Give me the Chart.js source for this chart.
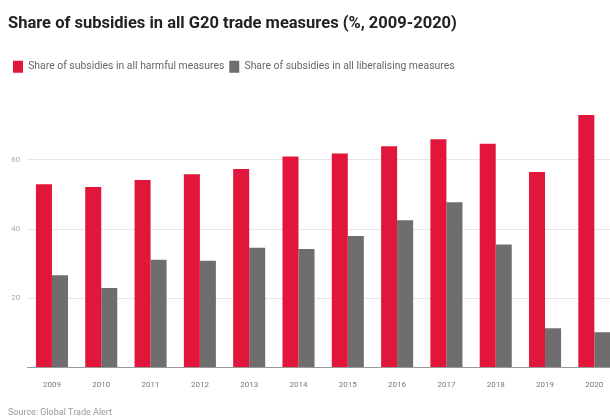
<!DOCTYPE html>
<html>
<head>
<meta charset="utf-8">
<script src="https://cdn.jsdelivr.net/npm/chart.js@4/dist/chart.umd.min.js"></script>
<style>
  html, body { margin: 0; padding: 0; background: #fff; overflow: hidden; }
  #wrap { position: relative; width: 619px; height: 418px; }
</style>
</head>
<body>
<div id="wrap"><canvas id="chart"></canvas></div>
<script>
// Datos
const years = ['2009', '2010', '2011', '2012', '2013', '2014', '2015', '2016', '2017', '2018', '2019', '2020'];
const harmful = [53.0, 52.2, 54.2, 55.9, 57.4, 61.0, 61.9, 64.0, 66.0, 64.7, 56.5, 73.0];
const liberalising = [26.7, 23.0, 31.2, 30.9, 34.6, 34.3, 38.0, 42.6, 47.8, 35.6, 11.4, 10.2];
const yTicks = [0, 20, 40, 60];

new Chart(document.getElementById('chart'), {
    type: 'bar',
    data: {
        labels: years,
        datasets: [{
            label: 'Share of subsidies in all harmful measures',
            data: harmful,
            backgroundColor: '#e2163b',
            categoryPercentage: 0.65,
            barPercentage: 1.0
        }, {
            label: 'Share of subsidies in all liberalising measures',
            data: liberalising,
            backgroundColor: '#6e6e6e',
            categoryPercentage: 0.65,
            barPercentage: 1.0
        }]
    },
    options: {
        responsive: true,
        maintainAspectRatio: false,
        animation: false,
        layout: { padding: { left: 8, right: 0, top: 14, bottom: 0 } },
        plugins: {
            title: {
                display: true,
                text: 'Share of subsidies in all G20 trade measures (%, 2009-2020)',
                align: 'start',
                color: '#222',
                font: { family: 'Roboto, sans-serif', size: 16.5, weight: 'bold' },
                padding: { top: 0, bottom: 22 }
            },
            legend: {
                align: 'start',
                labels: {
                    boxWidth: 10,
                    boxHeight: 12,
                    color: '#666',
                    font: { family: 'Roboto, sans-serif', size: 10.4 },
                    padding: 5
                }
            },
            subtitle: {
                display: true,
                position: 'bottom',
                align: 'start',
                text: 'Source: Global Trade Alert',
                color: '#999',
                font: { family: 'Roboto, sans-serif', size: 9 },
                padding: { top: 12, bottom: 0 }
            },
            tooltip: { enabled: false }
        },
        scales: {
            x: {
                grid: { display: false },
                border: { color: '#999' },
                ticks: { color: '#777', font: { family: 'Roboto, sans-serif', size: 8 }, padding: 5 }
            },
            y: {
                min: 0,
                max: 82.3,
                afterBuildTicks: (scale) => { scale.ticks = yTicks.map(v => ({ value: v })); },
                afterFit: (scale) => { scale.width = 19.3; },
                grid: { color: '#e6e6e6', drawTicks: false },
                border: { display: false },
                ticks: {
                    color: '#aaa',
                    padding: 7,
                    font: { family: 'Roboto, sans-serif', size: 8 },
                    callback: (v) => v === 0 ? '' : v
                }
            }
        }
    }
});
</script>
</body>
</html>
